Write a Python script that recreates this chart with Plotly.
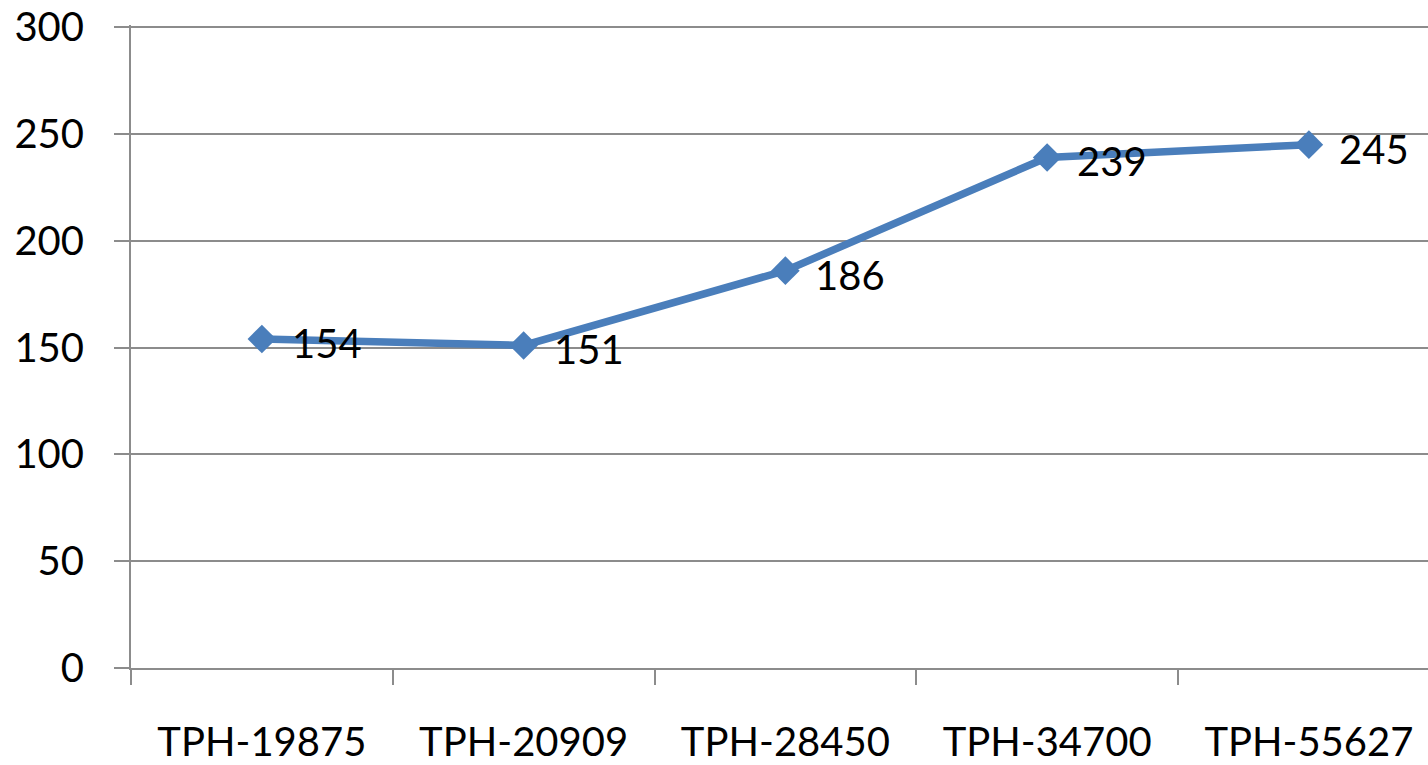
import plotly.graph_objects as go

categories = ["TPH-19875", "TPH-20909", "TPH-28450", "TPH-34700", "TPH-55627"]
values = [154, 151, 186, 239, 245]
y_ticks = [0, 50, 100, 150, 200, 250, 300]

FONT = "Lato, Calibri, Carlito, sans-serif"
GRID = "#8c8c8c"
BLUE = "#4a7ebb"

fig = go.Figure()
fig.add_trace(go.Scatter(
    x=categories, y=values,
    mode="lines+markers",
    line=dict(color=BLUE, width=7.5),
    marker=dict(symbol="diamond", size=22, color=BLUE),
    cliponaxis=False,
))
for c, v in zip(categories, values):
    fig.add_annotation(
        x=c, y=v, text=str(v), showarrow=False,
        xanchor="left", yanchor="middle", xshift=28, yshift=-4,
        font=dict(family=FONT, size=40, color="black"),
    )

fig.update_layout(
    width=1428, height=765,
    margin=dict(l=131, r=0, t=25, b=97),
    paper_bgcolor="white", plot_bgcolor="white",
    showlegend=False,
    font=dict(family=FONT, size=40, color="black"),
)
fig.update_xaxes(
    type="category", range=[-0.5, 4.455], automargin=False,
    showline=True, linecolor=GRID, linewidth=2,
    ticks="outside", ticklen=15, tickcolor=GRID, tickwidth=2,
    tickson="boundaries", showgrid=False,
    tickfont=dict(family=FONT, size=40, color="black"),
    ticklabelstandoff=38, ticklabeloverflow="allow",
)
fig.update_yaxes(
    range=[0, 301], tickvals=y_ticks, automargin=False,
    showline=True, linecolor=GRID, linewidth=2,
    ticks="outside", ticklen=15, tickcolor=GRID, tickwidth=2,
    showgrid=True, gridcolor=GRID, gridwidth=2,
    zeroline=False,
    tickfont=dict(family=FONT, size=40, color="black"),
    ticklabelstandoff=22, ticklabeloverflow="allow",
)

fig.write_html(
    "out.html",
    config={"displayModeBar": False},
    post_script="document.body.style.margin='0';document.body.style.overflow='hidden';",
)
